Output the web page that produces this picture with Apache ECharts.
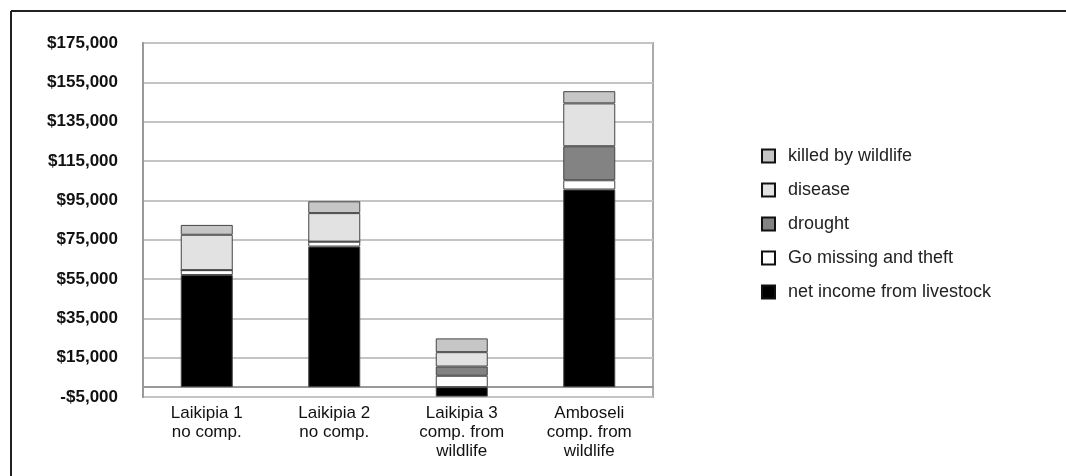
<!DOCTYPE html>
<html>
<head>
<meta charset="utf-8">
<title>Livestock income and losses</title>
<script src="https://cdn.jsdelivr.net/npm/echarts@6/dist/echarts.min.js"></script>
<style>
  html, body { margin: 0; padding: 0; background: #fff; }
  #chart { width: 1066px; height: 476px; }
</style>
</head>
<body>
<div id="chart"></div>
<script>
// sites along the x axis
const sites = [
  'Laikipia 1\nno comp.',
  'Laikipia 2\nno comp.',
  'Laikipia 3\ncomp. from\nwildlife',
  'Amboseli\ncomp. from\nwildlife'
];

// stacked values in US$, bottom to top
const netIncome   = [57000, 71500, -4800, 100500];
const goMissing   = [2500, 2500, 5800, 4700];
const drought     = [0, 0, 4700, 17300];
const disease     = [18000, 14500, 7300, 21800];
const killedByWildlife = [5000, 6000, 7000, 6200];

const legendOrder = ['killed by wildlife', 'disease', 'drought', 'Go missing and theft', 'net income from livestock'];

const font = "'Liberation Sans', Arial, sans-serif";

function money(v) {
  const s = Math.abs(v).toLocaleString('en-US');
  return (v < 0 ? '-$' : '$') + s;
}

const chart = echarts.init(document.getElementById('chart'));

function bar(name, data, color) {
  return {
    name: name,
    type: 'bar',
    stack: 'total',
    barWidth: 52,
    data: data,
    itemStyle: { color: color, borderColor: '#444', borderWidth: 1 },
    emphasis: { disabled: true }
  };
}

chart.setOption({
  animation: false,
  backgroundColor: '#fff',
  textStyle: { fontFamily: font },
  graphic: [
    // outer frame (top and left edges visible)
    { type: 'line', shape: { x1: 11, y1: 11, x2: 1066, y2: 11 }, style: { stroke: '#222', lineWidth: 2 } },
    { type: 'line', shape: { x1: 11, y1: 11, x2: 11, y2: 476 }, style: { stroke: '#222', lineWidth: 2 } }
  ],
  grid: {
    left: 143, right: 413, top: 43, bottom: 79,
    show: true,
    borderColor: '#aaa',
    borderWidth: 2,
    backgroundColor: '#fff'
  },
  legend: {
    orient: 'vertical',
    left: 756,
    top: 142,
    itemWidth: 13,
    itemHeight: 13,
    itemGap: 16,
    icon: 'rect',
    data: legendOrder,
    itemStyle: { borderColor: '#111', borderWidth: 2 },
    textStyle: { fontFamily: font, fontSize: 18, color: '#222', padding: [0, 0, 0, 8] },
    selectedMode: false
  },
  xAxis: {
    type: 'category',
    data: sites,
    axisLine: { lineStyle: { color: '#999', width: 2 } },
    axisTick: { show: false },
    axisLabel: {
      fontFamily: font,
      fontSize: 17,
      color: '#111',
      lineHeight: 19,
      margin: 7,
      interval: 0
    }
  },
  yAxis: {
    type: 'value',
    min: -5000,
    max: 175000,
    interval: 20000,
    axisLine: { show: true, lineStyle: { color: '#999', width: 2 } },
    axisTick: { show: false },
    splitLine: { lineStyle: { color: '#c4c4c4', width: 2 } },
    axisLabel: {
      fontFamily: font,
      fontSize: 17,
      fontWeight: 'bold',
      color: '#111',
      margin: 25,
      padding: [0, 0, 8, 0],
      formatter: money
    }
  },
  series: [
    bar('net income from livestock', netIncome, '#000000'),
    bar('Go missing and theft', goMissing, '#ffffff'),
    bar('drought', drought, '#838383'),
    bar('disease', disease, '#e2e2e2'),
    bar('killed by wildlife', killedByWildlife, '#c6c6c6')
  ]
});
</script>
</body>
</html>
